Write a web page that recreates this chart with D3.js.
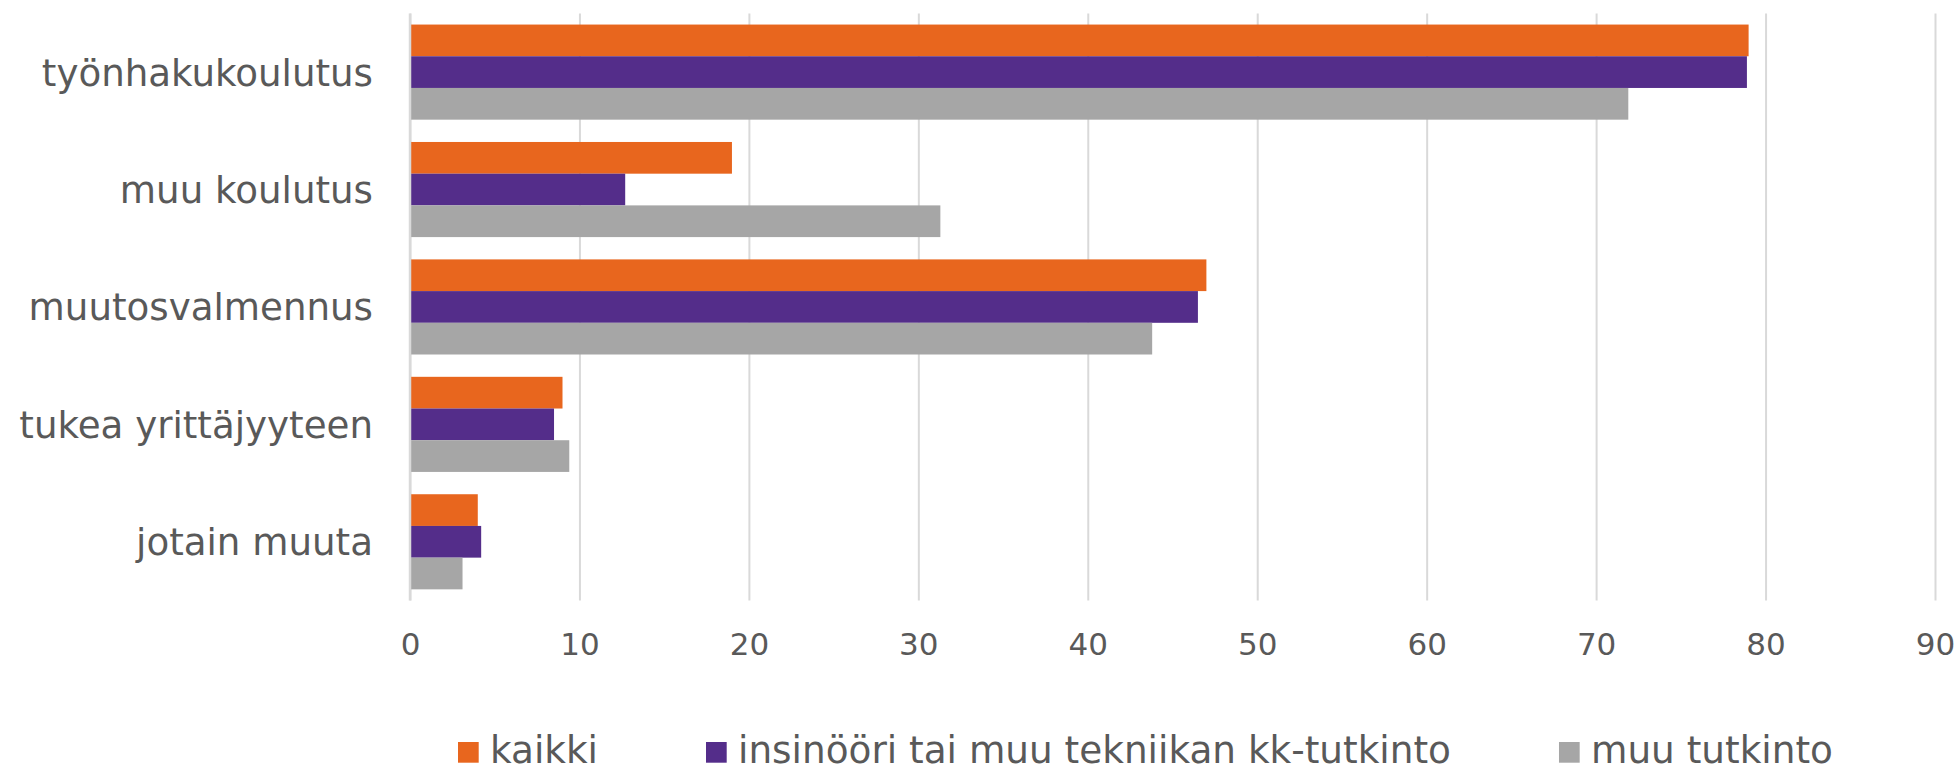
<!DOCTYPE html>
<html>
<head>
<meta charset="utf-8">
<script src="https://cdn.jsdelivr.net/npm/d3@7"></script>
<style>
  body { margin: 0; background: #fff; }
  text { font-family: "DejaVu Sans", Verdana, sans-serif; fill: #595959; }
</style>
</head>
<body>
<script>
// data
const categories = ['työnhakukoulutus', 'muu koulutus', 'muutosvalmennus', 'tukea yrittäjyyteen', 'jotain muuta'];
const seriesNames = ['kaikki', 'insinööri tai muu tekniikan kk-tutkinto', 'muu tutkinto'];
const kaikki = [79.0, 19.0, 47.0, 9.0, 4.0];
const insinoori = [78.9, 12.7, 46.5, 8.5, 4.2];
const muuTutkinto = [71.9, 31.3, 43.8, 9.4, 3.1];
const xTicks = [0, 10, 20, 30, 40, 50, 60, 70, 80, 90];
const colors = ['#e8661e', '#542d8a', '#a6a6a6'];

const width = 1957;
const height = 768;
const margin = { top: 13.4, right: 22, bottom: 167.5, left: 410 };

const svg = d3.select('body')
  .append('svg')
  .attr('width', width)
  .attr('height', height);

const x = d3.scaleLinear()
  .domain([0, 90])
  .range([margin.left, width - margin.right]);

const y = d3.scaleBand()
  .domain(categories)
  .range([margin.top, height - margin.bottom])
  .paddingInner(0.19)
  .paddingOuter(0.095);

const ySub = d3.scaleBand()
  .domain(seriesNames)
  .range([0, y.bandwidth()]);

const color = d3.scaleOrdinal(seriesNames, colors);

const values = [kaikki, insinoori, muuTutkinto];
const rows = [];
categories.forEach((c, i) => {
  seriesNames.forEach((s, j) => rows.push({ cat: c, series: s, value: values[j][i] }));
});

// vertical gridlines
const grid = d3.axisBottom(x)
  .tickValues(xTicks)
  .tickSize(-(height - margin.bottom - margin.top))
  .tickFormat('');

svg.append('g')
  .attr('transform', `translate(0,${height - margin.bottom})`)
  .call(grid)
  .call(g => g.select('.domain').remove())
  .call(g => g.selectAll('line').attr('stroke', '#d9d9d9').attr('stroke-width', 2));

// bars
svg.selectAll('.bar')
  .data(rows)
  .enter()
  .append('rect')
  .classed('bar', true)
  .attr('x', x(0))
  .attr('y', d => y(d.cat) + ySub(d.series))
  .attr('width', d => x(d.value) - x(0))
  .attr('height', ySub.bandwidth())
  .attr('fill', d => color(d.series));

// category axis line
svg.append('line')
  .attr('x1', x(0)).attr('x2', x(0))
  .attr('y1', margin.top).attr('y2', height - margin.bottom)
  .attr('stroke', '#d9d9d9')
  .attr('stroke-width', 2.5);

// value labels
const xAxis = d3.axisBottom(x)
  .tickValues(xTicks)
  .tickSize(0)
  .tickPadding(0);

svg.append('g')
  .attr('transform', `translate(0,${height - margin.bottom})`)
  .call(xAxis)
  .call(g => g.select('.domain').remove())
  .call(g => g.selectAll('text')
    .attr('y', 54)
    .attr('dy', 0)
    .style('font-size', '31px')
    .style('fill', '#595959'));

// category labels
const yAxis = d3.axisLeft(y)
  .tickSize(0)
  .tickPadding(37);

svg.append('g')
  .attr('transform', `translate(${x(0)},0)`)
  .call(yAxis)
  .call(g => g.select('.domain').remove())
  .call(g => g.selectAll('text')
    .attr('dy', 13.5)
    .style('font-size', '37.2px')
    .style('fill', '#595959'));

// legend
const legend = svg.append('g')
  .attr('transform', 'translate(458,762.7)');

let lx = 0;
seriesNames.forEach((s, i) => {
  const item = legend.append('g').attr('transform', `translate(${lx},0)`);
  item.append('rect')
    .attr('x', 0)
    .attr('y', -20.7)
    .attr('width', 20.7)
    .attr('height', 20.7)
    .attr('fill', colors[i]);
  const t = item.append('text')
    .attr('x', 32)
    .attr('y', 0)
    .style('font-size', '37.4px')
    .text(s);
  lx += 32 + t.node().getComputedTextLength() + 108;
});
</script>
</body>
</html>
